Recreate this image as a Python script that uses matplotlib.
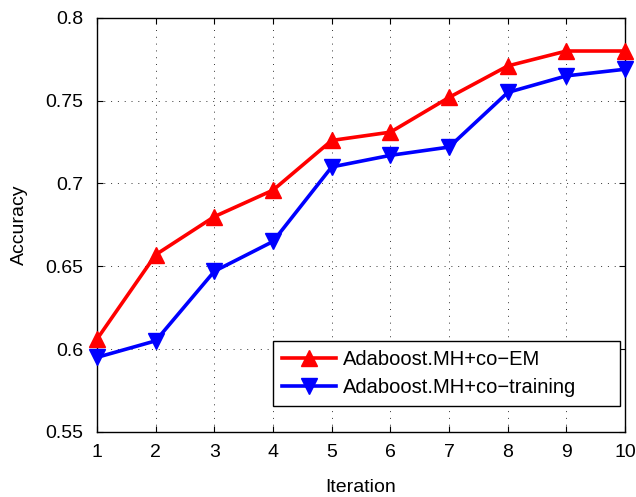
import matplotlib
matplotlib.use("Agg")
import matplotlib.pyplot as plt

# data
iterations = [1, 2, 3, 4, 5, 6, 7, 8, 9, 10]
acc_co_em = [0.606, 0.657, 0.680, 0.696, 0.726, 0.731, 0.752, 0.771, 0.780, 0.780]
acc_co_training = [0.595, 0.605, 0.647, 0.665, 0.710, 0.717, 0.722, 0.755, 0.765, 0.769]
y_ticks = [0.55, 0.6, 0.65, 0.7, 0.75, 0.8]
y_tick_labels = ["0.55", "0.6", "0.65", "0.7", "0.75", "0.8"]

plt.rcParams['font.family'] = ['Liberation Sans', 'DejaVu Sans']

fig = plt.figure(figsize=(6.36, 4.97), dpi=100)
ax = fig.add_axes([0.1525, 0.131, 0.8305, 0.833])

ax.plot(iterations, acc_co_em, color='#ff0000', linewidth=2.6, marker='^',
        markersize=12, label='Adaboost.MH+co\u2212EM', clip_on=False, zorder=3)
ax.plot(iterations, acc_co_training, color='#0000ff', linewidth=2.6, marker='v',
        markersize=12, label='Adaboost.MH+co\u2212training', clip_on=False, zorder=3)

ax.set_xlim(1, 10)
ax.set_ylim(0.55, 0.8)
ax.set_xticks(iterations)
ax.set_yticks(y_ticks)
ax.set_yticklabels(y_tick_labels)
ax.tick_params(direction='in', labelsize=14, length=4, top=True, right=True)
ax.tick_params(axis='y', pad=10)
ax.tick_params(axis='x', pad=9)
ax.grid(True, linestyle=(0, (1, 6)), color='#333333', linewidth=0.7)
for s in ax.spines.values():
    s.set_linewidth(1.0)

ax.set_xlabel('Iteration', fontsize=14, labelpad=13)
ax.set_ylabel('Accuracy', fontsize=14, labelpad=12)

# MATLAB-style legend box, wider than its text
leg = ax.legend(loc='lower left', bbox_to_anchor=(0.3333, 0.0628, 0.657, 0.159),
                mode='expand', fontsize=14.5, fancybox=False, framealpha=1,
                edgecolor='black', borderaxespad=0, handlelength=2.7,
                handletextpad=0.3, borderpad=0.45, labelspacing=0.45)
leg.get_frame().set_linewidth(1.0)

fig.savefig('out.png', dpi=100)
